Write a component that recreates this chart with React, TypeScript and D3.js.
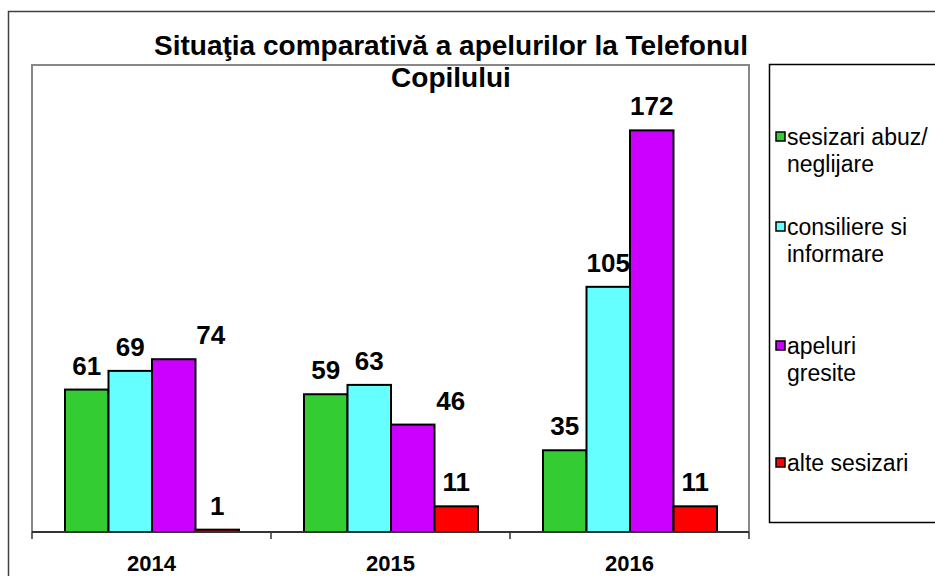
import React from "react";
import * as d3 from "d3";

const categories = ["2014", "2015", "2016"];
const seriesNames = ["sesizari abuz/\nneglijare", "consiliere si\ninformare", "apeluri\ngresite", "alte sesizari"];
const seriesColors = ["#33CC33", "#66FFFF", "#CC00FF", "#FF0000"];
const values2014 = [61, 69, 74, 1];
const values2015 = [59, 63, 46, 11];
const values2016 = [35, 105, 172, 11];
const allValues = [values2014, values2015, values2016];
// manual horizontal nudges of some data labels (px), as in the original
const labelNudge = [[0, 0, 37, 0], [0, 0, 38, 0], [0, 0, 0, 0]];
const titleLines = ["Situaţia comparativă a apelurilor la Telefonul", "Copilului"];

const FONT = "'Liberation Sans', Arial, sans-serif";

export default function App() {
  const W = 935, H = 576;
  const plot = { left: 32, top: 65, right: 749, bottom: 532 };
  const x0 = d3.scaleBand<string>().domain(categories).range([plot.left, plot.right]).padding(0);
  const bw = x0.bandwidth();
  const x1 = d3.scaleBand<number>().domain([0, 1, 2, 3]).range([33, bw - 32]).padding(0);
  const y = d3.scaleLinear().domain([0, 200]).range([plot.bottom, plot.top]);
  const ticks = [...categories.map((c) => x0(c)!), plot.right];

  const legendRows = [137, 227, 346, 463];

  return (
    <svg width={W} height={H} style={{ position: "absolute", left: 0, top: 0, background: "#fff" }}>
      {/* outer frame */}
      <path d={`M8.5,${H + 5} V11.5 H${W + 5}`} fill="none" stroke="#404040" strokeWidth={1.5} />
      {/* plot area border */}
      <path d={`M${plot.left},${plot.bottom} V${plot.top} H${plot.right} V${plot.bottom}`} fill="none" stroke="#888" strokeWidth={2} />
      {/* bars */}
      {categories.map((c, ci) => (
        <g key={c} transform={`translate(${x0(c)},0)`}>
          {allValues[ci].map((v, si) => (
            <rect key={si} x={x1(si)} y={y(v)} width={x1.bandwidth()} height={plot.bottom - y(v)}
              fill={seriesColors[si]} stroke="#000" strokeWidth={2} />
          ))}
          {allValues[ci].map((v, si) => (
            <text key={"l" + si} x={x1(si)! + x1.bandwidth() / 2 + labelNudge[ci][si]} y={y(v) - 15}
              textAnchor="middle" fontFamily={FONT} fontWeight="bold" fontSize={26} fill="#000">{v}</text>
          ))}
        </g>
      ))}
      {/* x axis */}
      <line x1={plot.left} x2={plot.right} y1={plot.bottom} y2={plot.bottom} stroke="#333" strokeWidth={2} />
      {ticks.map((t, i) => (
        <line key={i} x1={t} x2={t} y1={plot.bottom} y2={plot.bottom + 7} stroke="#333" strokeWidth={1.5} />
      ))}
      {categories.map((c) => (
        <text key={c} x={x0(c)! + bw / 2} y={571} textAnchor="middle" fontFamily={FONT} fontWeight="bold" fontSize={22} fill="#000">{c}</text>
      ))}
      {/* title */}
      {titleLines.map((t, i) => (
        <text key={i} x={451} y={55 + i * 32} textAnchor="middle" fontFamily={FONT} fontWeight="bold" fontSize={28} fill="#000">{t}</text>
      ))}
      {/* legend */}
      <path d={`M${W + 5},64.5 H769.5 V522.5 H${W + 5}`} fill="none" stroke="#000" strokeWidth={1.5} />
      {seriesNames.map((n, i) => {
        const lines = n.split("\n");
        const cy = legendRows[i];
        return (
          <g key={i}>
            <rect x={776} y={cy - 5} width={9} height={9} fill={seriesColors[i]} stroke="#000" strokeWidth={1.5} />
            {lines.map((l, li) => (
              <text key={li} x={787} y={cy + 8 + li * 27} fontFamily={FONT} fontSize={23} fill="#000">{l}</text>
            ))}
          </g>
        );
      })}
    </svg>
  );
}
